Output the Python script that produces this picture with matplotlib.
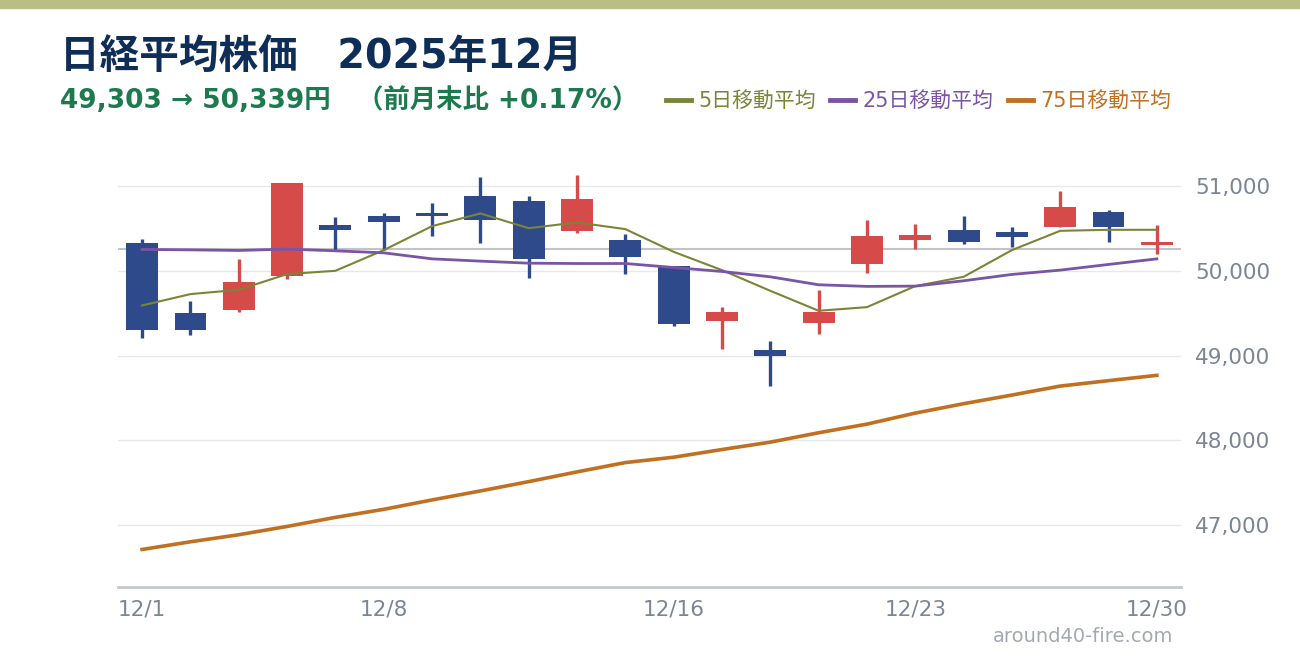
import matplotlib
matplotlib.use("Agg")
import matplotlib.pyplot as plt
from matplotlib.patches import Rectangle
from matplotlib.lines import Line2D
import numpy as np

# wide latin glyphs from DejaVu, CJK glyphs from Noto
plt.rcParams['font.family'] = ['DejaVu Sans', 'Noto Sans CJK JP']

# --- data ---
dates = ["12/1", "12/2", "12/3", "12/4", "12/5", "12/8", "12/9", "12/10", "12/11", "12/12", "12/15",
         "12/16", "12/17", "12/18", "12/19", "12/22", "12/23", "12/24", "12/25", "12/26", "12/29", "12/30"]
tick_dates = ["12/1", "12/8", "12/16", "12/23", "12/30"]

opens = [50327, 49501, 49537, 49942, 50540, 50646, 50681, 50882, 50823, 50469, 50363,
         50056, 49407, 49065, 49383, 50083, 50366, 50481, 50457, 50520, 50693, 50305]
closes = [49303, 49305, 49867, 51035, 50484, 50579, 50646, 50599, 50139, 50847, 50162,
          49372, 49513, 48994, 49513, 50410, 50422, 50343, 50402, 50752, 50520, 50339]
highs = [50375, 49643, 50139, 51035, 50634, 50681, 50799, 51106, 50882, 51130, 50434,
         50056, 49572, 49171, 49773, 50599, 50552, 50646, 50516, 50941, 50717, 50540]
lows = [49210, 49245, 49513, 49906, 50237, 50245, 50410, 50331, 49918, 50449, 49962,
        49348, 49077, 48640, 49257, 49973, 50257, 50319, 50284, 50520, 50343, 50198]

ma5 = [49592, 49726, 49777, 49962, 50001, 50245, 50528, 50678, 50504, 50572, 50493,
       50225, 50009, 49765, 49529, 49572, 49820, 49930, 50245, 50473, 50485, 50485]
ma25 = [50253, 50248, 50241, 50257, 50237, 50213, 50142, 50115, 50091, 50087, 50087,
        50040, 49993, 49930, 49836, 49817, 49820, 49883, 49958, 50009, 50076, 50142]
ma75 = [46711, 46802, 46885, 46983, 47090, 47185, 47296, 47402, 47512, 47627, 47737,
        47800, 47891, 47978, 48089, 48191, 48321, 48432, 48534, 48640, 48704, 48767]

prev_month_close = 50253
yticks = [47000, 48000, 49000, 50000, 51000]

# --- colours ---
UP = "#D64A4A"
DOWN = "#2E4A8B"
C5 = "#7A8538"
C25 = "#7A55A6"
C75 = "#C07020"
TICK = "#7C8594"

fig = plt.figure(figsize=(13, 6.6), dpi=100)
fig.patches.append(Rectangle((0, 1 - 8 / 660), 1, 8 / 660, transform=fig.transFigure,
                             color="#B9BE84", zorder=0))

ax = fig.add_axes([118 / 1300, 1 - 587 / 660, (1181 - 118) / 1300, (587 - 165) / 660])

x = np.arange(len(dates))
o = np.array(opens)
c = np.array(closes)
colors = [UP if cc >= oo else DOWN for oo, cc in zip(o, c)]

ax.vlines(x, lows, highs, colors=colors, linewidth=2.4, zorder=3)
body_bottom = np.minimum(o, c)
body_h = np.maximum(np.abs(c - o), 30)
ax.bar(x, body_h, bottom=body_bottom, width=0.66, color=colors, zorder=3)

ax.axhline(prev_month_close, color="#C2C3C9", linewidth=1.5, zorder=2)

ax.plot(x, ma5, color=C5, linewidth=1.5, zorder=4)
ax.plot(x, ma25, color=C25, linewidth=2.0, zorder=4)
ax.plot(x, ma75, color=C75, linewidth=2.6, zorder=4)

ax.set_xlim(-0.5, len(dates) - 0.5)
ax.set_ylim(46268, 51250)

ax.set_yticks(yticks)
ax.set_yticklabels([f"{v:,}" for v in yticks])
ax.yaxis.tick_right()
ax.grid(axis="y", color="#E6E8EC", linewidth=1, zorder=0)
ax.set_axisbelow(True)

ax.set_xticks([dates.index(d) for d in tick_dates])
ax.set_xticklabels(tick_dates)
ax.tick_params(axis="both", length=0, labelsize=15.5, labelcolor=TICK)
ax.tick_params(axis="y", pad=10)
ax.tick_params(axis="x", pad=9)

for s in ["top", "left", "right"]:
    ax.spines[s].set_visible(False)
ax.spines["bottom"].set_color("#C5C8D0")
ax.spines["bottom"].set_linewidth(2)

# titles
fig.text(60 / 1300, 1 - 57 / 660, "日経平均株価　2025年12月", fontsize=28.5, fontweight="bold",
         color="#0E2D57", va="center", ha="left")
fig.text(60 / 1300, 1 - 101 / 660, "49,303 → 50,339円　（前月末比 +0.17%）", fontsize=19,
         fontweight="bold", color="#1D7A4E", va="center", ha="left")

handles = [Line2D([0], [0], color=C5, lw=3.5), Line2D([0], [0], color=C25, lw=3.5),
           Line2D([0], [0], color=C75, lw=3.5)]
fig.legend(handles, ["5日移動平均", "25日移動平均", "75日移動平均"], loc="center left",
           bbox_to_anchor=(647 / 1300, 1 - 101 / 660), ncol=3, frameon=False,
           fontsize=15, handlelength=1.2, handletextpad=0.35, columnspacing=0.7,
           labelcolor="linecolor")

fig.text(1173 / 1300, 1 - 637 / 660, "around40-fire.com", fontsize=14, color="#A3A8B2",
         ha="right", va="center")

fig.savefig("out.png", dpi=100)
